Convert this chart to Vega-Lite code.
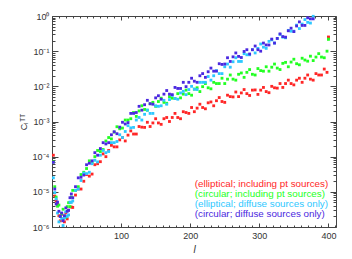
{
  "$schema": "https://vega.github.io/schema/vega-lite/v6.json",
  "width": 284,
  "height": 211,
  "autosize": {"type": "none"},
  "padding": {"left": 52, "top": 16, "right": 16, "bottom": 32},
  "background": "white",
  "config": {"view": {"stroke": null}, "font": "Liberation Sans"},
  "data": {"values": [
    {"l":2,"r":1.1e-4,"g":7.1e-5,"c":2.5e-5,"b":6.9e-5},
    {"l":4,"r":7.6e-6,"g":1.4e-5,"c":9.5e-6,"b":1.2e-5},
    {"l":6,"r":5.6e-6,"g":7.1e-6,"c":6.3e-6,"b":4.5e-6},
    {"l":8,"r":4.4e-6,"g":3.9e-6,"c":2.5e-6,"b":5.1e-6},
    {"l":10,"r":2.1e-6,"g":4.2e-6,"c":1.4e-6,"b":2.8e-6},
    {"l":12,"r":1.5e-6,"g":2.0e-6,"c":2.0e-6,"b":2.0e-6},
    {"l":14,"r":2.3e-6,"g":2.4e-6,"c":1.7e-6,"b":2.5e-6},
    {"l":16,"r":1.7e-6,"g":3.2e-6,"c":1.1e-6,"b":1.5e-6},
    {"l":18,"r":1.4e-6,"g":2.0e-6,"c":1.8e-6,"b":2.1e-6},
    {"l":20,"r":2.5e-6,"g":1.9e-6,"c":2.7e-6,"b":3.5e-6},
    {"l":22,"r":1.7e-6,"g":3.8e-6,"c":2.0e-6,"b":2.8e-6},
    {"l":24,"r":3.0e-6,"g":4.9e-6,"c":2.2e-6,"b":3.0e-6},
    {"l":26,"r":5.0e-6,"g":3.8e-6,"c":5.1e-6,"b":6.8e-6},
    {"l":28,"r":3.7e-6,"g":7.1e-6,"c":5.0e-6,"b":8.7e-6},
    {"l":30,"r":3.6e-6,"g":1.1e-5,"c":5.5e-6,"b":6.8e-6},
    {"l":34,"r":8.1e-6,"g":1.1e-5,"c":1.1e-5,"b":1.4e-5},
    {"l":38,"r":1.2e-5,"g":1.4e-5,"c":1.2e-5,"b":2.5e-5},
    {"l":42,"r":1.2e-5,"g":3.1e-5,"c":2.1e-5,"b":2.6e-5},
    {"l":46,"r":2.0e-5,"g":3.6e-5,"c":3.4e-5,"b":3.0e-5},
    {"l":50,"r":3.1e-5,"g":4.6e-5,"c":3.3e-5,"b":5.9e-5},
    {"l":54,"r":2.8e-5,"g":7.6e-5,"c":3.6e-5,"b":6.5e-5},
    {"l":58,"r":3.2e-5,"g":6.8e-5,"c":6.3e-5,"b":7.6e-5},
    {"l":62,"r":5.9e-5,"g":1.0e-4,"c":7.9e-5,"b":1.3e-4},
    {"l":66,"r":6.3e-5,"g":1.5e-4,"c":7.1e-5,"b":1.1e-4},
    {"l":70,"r":7.2e-5,"g":1.4e-4,"c":1.1e-4,"b":1.7e-4},
    {"l":74,"r":1.2e-4,"g":1.6e-4,"c":1.5e-4,"b":2.5e-4},
    {"l":78,"r":1.0e-4,"g":2.8e-4,"c":1.3e-4,"b":2.3e-4},
    {"l":82,"r":1.5e-4,"g":3.5e-4,"c":1.4e-4,"b":2.5e-4},
    {"l":86,"r":2.1e-4,"g":3.2e-4,"c":2.5e-4,"b":4.2e-4},
    {"l":90,"r":1.9e-4,"g":5.0e-4,"c":2.5e-4,"b":5.1e-4},
    {"l":94,"r":1.9e-4,"g":7.1e-4,"c":2.7e-4,"b":4.5e-4},
    {"l":98,"r":3.0e-4,"g":6.2e-4,"c":4.2e-4,"b":6.9e-4},
    {"l":102,"r":3.5e-4,"g":6.5e-4,"c":3.5e-4,"b":9.5e-4},
    {"l":106,"r":2.8e-4,"g":1.1e-3,"c":5.2e-4,"b":8.5e-4},
    {"l":110,"r":4.1e-4,"g":1.1e-3,"c":7.6e-4,"b":9.3e-4},
    {"l":114,"r":5.4e-4,"g":1.2e-3,"c":6.6e-4,"b":1.7e-3},
    {"l":118,"r":4.4e-4,"g":1.8e-3,"c":6.8e-4,"b":1.7e-3},
    {"l":122,"r":4.4e-4,"g":1.4e-3,"c":1.1e-3,"b":1.8e-3},
    {"l":126,"r":7.2e-4,"g":2.0e-3,"c":1.3e-3,"b":2.7e-3},
    {"l":130,"r":6.9e-4,"g":2.8e-3,"c":1.1e-3,"b":2.1e-3},
    {"l":134,"r":6.8e-4,"g":2.2e-3,"c":1.6e-3,"b":3.0e-3},
    {"l":138,"r":9.5e-4,"g":2.1e-3,"c":2.1e-3,"b":4.0e-3},
    {"l":142,"r":7.2e-4,"g":3.2e-3,"c":1.7e-3,"b":3.2e-3},
    {"l":146,"r":9.1e-4,"g":3.5e-3,"c":1.7e-3,"b":3.1e-3},
    {"l":150,"r":1.2e-3,"g":2.7e-3,"c":2.8e-3,"b":4.7e-3},
    {"l":154,"r":9.1e-4,"g":3.7e-3,"c":2.7e-3,"b":5.4e-3},
    {"l":158,"r":8.3e-4,"g":4.6e-3,"c":2.8e-3,"b":4.3e-3},
    {"l":162,"r":1.2e-3,"g":3.5e-3,"c":4.0e-3,"b":6.0e-3},
    {"l":166,"r":1.3e-3,"g":3.3e-3,"c":3.1e-3,"b":7.6e-3},
    {"l":170,"r":1.0e-3,"g":5.1e-3,"c":4.2e-3,"b":6.0e-3},
    {"l":174,"r":1.3e-3,"g":4.6e-3,"c":5.5e-3,"b":5.8e-3},
    {"l":178,"r":1.7e-3,"g":4.5e-3,"c":4.5e-3,"b":9.3e-3},
    {"l":182,"r":1.3e-3,"g":6.2e-3,"c":4.3e-3,"b":8.7e-3},
    {"l":186,"r":1.2e-3,"g":4.7e-3,"c":6.5e-3,"b":8.7e-3},
    {"l":190,"r":1.9e-3,"g":6.0e-3,"c":7.2e-3,"b":1.3e-2},
    {"l":194,"r":1.8e-3,"g":7.8e-3,"c":5.8e-3,"b":9.8e-3},
    {"l":198,"r":1.7e-3,"g":6.2e-3,"c":8.1e-3,"b":1.3e-2},
    {"l":202,"r":2.5e-3,"g":5.6e-3,"c":1.0e-2,"b":1.7e-2},
    {"l":206,"r":1.9e-3,"g":8.3e-3,"c":8.3e-3,"b":1.4e-2},
    {"l":210,"r":2.4e-3,"g":9.1e-3,"c":8.1e-3,"b":1.3e-2},
    {"l":214,"r":3.1e-3,"g":7.1e-3,"c":1.3e-2,"b":2.0e-2},
    {"l":218,"r":2.5e-3,"g":9.8e-3,"c":1.3e-2,"b":2.3e-2},
    {"l":222,"r":2.3e-3,"g":1.2e-2,"c":1.3e-2,"b":1.8e-2},
    {"l":226,"r":3.4e-3,"g":9.1e-3,"c":1.9e-2,"b":2.6e-2},
    {"l":230,"r":3.6e-3,"g":8.5e-3,"c":1.5e-2,"b":3.3e-2},
    {"l":234,"r":2.8e-3,"g":1.3e-2,"c":2.0e-2,"b":2.7e-2},
    {"l":238,"r":3.9e-3,"g":1.2e-2,"c":2.8e-2,"b":2.7e-2},
    {"l":242,"r":4.8e-3,"g":1.2e-2,"c":2.3e-2,"b":4.4e-2},
    {"l":246,"r":3.7e-3,"g":1.7e-2,"c":2.3e-2,"b":4.2e-2},
    {"l":250,"r":3.5e-3,"g":1.2e-2,"c":3.6e-2,"b":4.3e-2},
    {"l":254,"r":5.6e-3,"g":1.6e-2,"c":4.3e-2,"b":6.5e-2},
    {"l":258,"r":5.1e-3,"g":2.1e-2,"c":3.5e-2,"b":5.1e-2},
    {"l":262,"r":5.0e-3,"g":1.6e-2,"c":5.0e-2,"b":6.9e-2},
    {"l":266,"r":6.9e-3,"g":1.5e-2,"c":6.5e-2,"b":8.9e-2},
    {"l":270,"r":5.1e-3,"g":2.2e-2,"c":5.1e-2,"b":7.1e-2},
    {"l":274,"r":6.5e-3,"g":2.4e-2,"c":5.1e-2,"b":6.6e-2},
    {"l":278,"r":8.1e-3,"g":1.8e-2,"c":8.5e-2,"b":9.8e-2},
    {"l":282,"r":6.2e-3,"g":2.5e-2,"c":7.9e-2,"b":0.11},
    {"l":286,"r":5.5e-3,"g":3.0e-2,"c":7.9e-2,"b":8.3e-2},
    {"l":290,"r":7.8e-3,"g":2.2e-2,"c":0.11,"b":0.11},
    {"l":294,"r":7.9e-3,"g":2.1e-2,"c":8.9e-2,"b":0.14},
    {"l":298,"r":5.9e-3,"g":3.2e-2,"c":0.12,"b":0.11},
    {"l":302,"r":7.8e-3,"g":2.8e-2,"c":0.16,"b":0.10},
    {"l":306,"r":9.3e-3,"g":2.7e-2,"c":0.13,"b":0.17},
    {"l":310,"r":7.1e-3,"g":3.6e-2,"c":0.12,"b":0.15},
    {"l":314,"r":6.6e-3,"g":2.7e-2,"c":0.19,"b":0.15},
    {"l":318,"r":1.0e-2,"g":3.5e-2,"c":0.21,"b":0.22},
    {"l":322,"r":9.1e-3,"g":4.3e-2,"c":0.17,"b":0.17},
    {"l":326,"r":8.9e-3,"g":3.3e-2,"c":0.23,"b":0.23},
    {"l":330,"r":1.2e-2,"g":3.0e-2,"c":0.30,"b":0.31},
    {"l":334,"r":9.3e-3,"g":4.5e-2,"c":0.25,"b":0.26},
    {"l":338,"r":1.2e-2,"g":4.8e-2,"c":0.24,"b":0.25},
    {"l":342,"r":1.5e-2,"g":3.6e-2,"c":0.39,"b":0.38},
    {"l":346,"r":1.2e-2,"g":4.9e-2,"c":0.37,"b":0.45},
    {"l":350,"r":1.1e-2,"g":5.9e-2,"c":0.37,"b":0.36},
    {"l":354,"r":1.5e-2,"g":4.4e-2,"c":0.55,"b":0.52},
    {"l":358,"r":1.7e-2,"g":4.1e-2,"c":0.44,"b":0.68},
    {"l":362,"r":1.3e-2,"g":6.3e-2,"c":0.59,"b":0.54},
    {"l":366,"r":1.7e-2,"g":5.6e-2,"c":0.79,"b":0.54},
    {"l":370,"r":2.1e-2,"g":5.2e-2,"c":0.66,"b":0.89},
    {"l":374,"r":1.6e-2,"g":7.2e-2,"c":0.63,"b":0.83},
    {"l":378,"r":1.5e-2,"g":5.4e-2,"c":0.98,"b":0.83},
    {"l":382,"r":2.3e-2,"g":6.8e-2},
    {"l":386,"r":2.1e-2,"g":8.5e-2},
    {"l":390,"r":2.1e-2,"g":6.8e-2},
    {"l":394,"r":3.1e-2,"g":6.5e-2},
    {"l":398,"r":2.5e-2,"g":0.10},
    {"l":400,"r":0.25,"g":0.22}
  ]},
  "transform": [{"fold": ["r", "g", "c", "b"], "as": ["s", "v"]}],
  "layer": [
    {
      "mark": {"type": "square", "size": 8, "opacity": 1},
      "encoding": {
        "x": {
          "field": "l", "type": "quantitative",
          "scale": {"domain": [0, 411], "nice": false, "zero": false},
          "axis": {
            "orient": "bottom",
            "values": [0,10,20,30,40,50,60,70,80,90,100,110,120,130,140,150,160,170,180,190,200,210,220,230,240,250,260,270,280,290,300,310,320,330,340,350,360,370,380,390,400,410],
            "labelExpr": "datum.value % 100 == 0 && datum.value > 0 ? format(datum.value, 'd') : ''",
            "tickSize": {"condition": {"test": "datum.value % 100 == 0", "value": -4}, "value": -2},
            "labelPadding": 8,
            "labelFontSize": 9, "labelColor": "#333", "labelFlush": false, "labelOverlap": false,
            "domainColor": "#444", "tickColor": "#444", "grid": false,
            "title": "l", "titleFontStyle": "italic", "titleFontWeight": "normal", "titleFontSize": 10, "titleColor": "#333", "titlePadding": 2
          }
        },
        "y": {
          "field": "v", "type": "quantitative",
          "scale": {"type": "log", "domain": [1e-6, 1], "nice": false},
          "axis": {
            "orient": "left",
            "values": [1e-6,2e-6,3e-6,4e-6,5e-6,6e-6,7e-6,8e-6,9e-6,1e-5,2e-5,3e-5,4e-5,5e-5,6e-5,7e-5,8e-5,9e-5,1e-4,2e-4,3e-4,4e-4,5e-4,6e-4,7e-4,8e-4,9e-4,1e-3,2e-3,3e-3,4e-3,5e-3,6e-3,7e-3,8e-3,9e-3,0.01,0.02,0.03,0.04,0.05,0.06,0.07,0.08,0.09,0.1,0.2,0.3,0.4,0.5,0.6,0.7,0.8,0.9,1],
            "labelExpr": "abs(log(datum.value)/LN10 - round(log(datum.value)/LN10)) < 0.001 ? ['10⁻⁶','10⁻⁵','10⁻⁴','10⁻³','10⁻²','10⁻¹','10⁰'][round(log(datum.value)/LN10) + 6] : ''",
            "tickSize": {"condition": {"test": "abs(log(datum.value)/LN10 - round(log(datum.value)/LN10)) < 0.001", "value": -6}, "value": -3},
            "labelPadding": 9,
            "labelFontSize": 9, "labelColor": "#333", "labelFlush": false, "labelOverlap": false,
            "domainColor": "#444", "tickColor": "#444", "grid": false,
            "title": "Cₗᵀᵀ", "titleFontWeight": "normal", "titleFontSize": 9, "titleColor": "#333", "titlePadding": 4
          }
        },
        "color": {
          "field": "s", "type": "nominal",
          "scale": {"domain": ["r", "g", "c", "b"], "range": ["#FF2626", "#22FF22", "#2EC8FF", "#4A28E0"]},
          "legend": {
            "orient": "none", "legendX": 133, "legendY": 163, "direction": "vertical",
            "title": null, "symbolSize": 0, "symbolStrokeWidth": 0, "symbolOpacity": 0,
            "labelOffset": 0, "labelFontSize": 9.8, "labelLimit": 300, "rowPadding": -3.5, "padding": 0,
            "labelExpr": "datum.value == 'r' ? '(elliptical; including pt sources)' : datum.value == 'g' ? '(circular; including pt sources)' : datum.value == 'c' ? '(elliptical; diffuse sources only)' : '(circular; diffuse sources only)'",
            "encode": {"labels": {"update": {"fill": {"scale": "color", "field": "value"}}}}
          }
        },
        "order": {"field": "s", "sort": "descending"}
      }
    },
    {
      "transform": [{"filter": "datum.l >= 400"}],
      "mark": {"type": "square", "size": 8, "opacity": 1},
      "encoding": {
        "x": {
          "field": "l", "type": "quantitative",
          "axis": {
            "orient": "top", "labels": false, "title": null,
            "values": [0,10,20,30,40,50,60,70,80,90,100,110,120,130,140,150,160,170,180,190,200,210,220,230,240,250,260,270,280,290,300,310,320,330,340,350,360,370,380,390,400,410],
            "tickSize": {"condition": {"test": "datum.value % 100 == 0", "value": -4}, "value": -2},
            "domainColor": "#444", "tickColor": "#444", "grid": false
          }
        },
        "y": {
          "field": "v", "type": "quantitative",
          "axis": {
            "orient": "right", "labels": false, "title": null,
            "values": [1e-6,2e-6,3e-6,4e-6,5e-6,6e-6,7e-6,8e-6,9e-6,1e-5,2e-5,3e-5,4e-5,5e-5,6e-5,7e-5,8e-5,9e-5,1e-4,2e-4,3e-4,4e-4,5e-4,6e-4,7e-4,8e-4,9e-4,1e-3,2e-3,3e-3,4e-3,5e-3,6e-3,7e-3,8e-3,9e-3,0.01,0.02,0.03,0.04,0.05,0.06,0.07,0.08,0.09,0.1,0.2,0.3,0.4,0.5,0.6,0.7,0.8,0.9,1],
            "tickSize": {"condition": {"test": "abs(log(datum.value)/LN10 - round(log(datum.value)/LN10)) < 0.001", "value": -6}, "value": -3},
            "domainColor": "#444", "tickColor": "#444", "grid": false
          }
        },
        "color": {"field": "s", "type": "nominal"}
      }
    }
  ],
  "resolve": {"axis": {"x": "independent", "y": "independent"}}
}
